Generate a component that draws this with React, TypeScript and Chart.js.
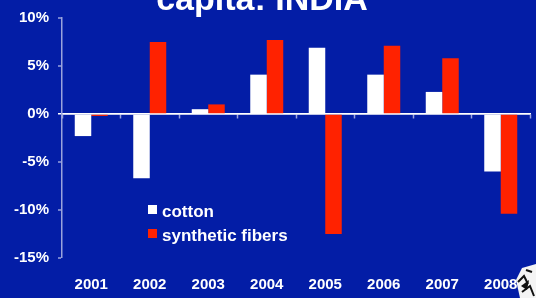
import React, { useEffect, useRef } from "react";
import { Chart, registerables } from "chart.js";

Chart.register(...registerables);

const years = ["2001", "2002", "2003", "2004", "2005", "2006", "2007", "2008"];
const cotton = [-2.3, -6.7, 0.5, 4.1, 6.9, 4.1, 2.3, -6.0];
const synthetic = [-0.2, 7.5, 1.0, 7.7, -12.5, 7.1, 5.8, -10.4];
const seriesNames = ["cotton", "synthetic fibers"];
const titleText = "capita: INDIA";

const BG = "#031da6";
const AXIS = "#9aa3dc";
const FONT = 'Arial, "Liberation Sans", sans-serif';

const bgPlugin = {
  id: "bg",
  beforeDraw(chart: any) {
    const { ctx, width, height } = chart;
    ctx.save();
    ctx.fillStyle = BG;
    ctx.fillRect(0, 0, width, height);
    ctx.restore();
  },
};

const decorPlugin = {
  id: "decor",
  afterDraw(chart: any) {
    const { ctx } = chart;
    ctx.save();
    // title (cut at top)
    ctx.fillStyle = "#ffffff";
    ctx.font = `bold 34px ${FONT}`;
    ctx.textAlign = "center";
    ctx.textBaseline = "alphabetic";
    ctx.fillText(titleText, 262, 9.5);
    // legend inside plot
    ctx.font = `bold 17px ${FONT}`;
    ctx.textAlign = "left";
    chart.data.datasets.forEach((ds: any, i: number) => {
      const y = 205 + i * 24;
      ctx.fillStyle = ds.backgroundColor;
      ctx.fillRect(148, y, 9, 9);
      ctx.fillStyle = "#ffffff";
      ctx.fillText(ds.label, 162, y + 12);
    });
    // small cotton image at bottom right
    ctx.fillStyle = "#f4f4f4";
    ctx.beginPath();
    ctx.moveTo(520, 298);
    ctx.lineTo(516, 280);
    ctx.lineTo(522, 268);
    ctx.lineTo(536, 264);
    ctx.lineTo(536, 298);
    ctx.closePath();
    ctx.fill();
    ctx.strokeStyle = "#111";
    ctx.lineWidth = 2;
    ctx.beginPath();
    ctx.moveTo(518, 282);
    ctx.lineTo(524, 276);
    ctx.lineTo(528, 284);
    ctx.moveTo(522, 292);
    ctx.lineTo(530, 286);
    ctx.lineTo(534, 296);
    ctx.moveTo(526, 270);
    ctx.lineTo(532, 272);
    ctx.stroke();
    ctx.fillStyle = "#111";
    ctx.beginPath();
    ctx.moveTo(521, 286);
    ctx.lineTo(529, 280);
    ctx.lineTo(527, 290);
    ctx.closePath();
    ctx.fill();
    ctx.restore();
  },
};

export default function App() {
  const ref = useRef<HTMLCanvasElement>(null);
  useEffect(() => {
    if (!ref.current) return;
    const chart = new Chart(ref.current, {
      type: "bar",
      data: {
        labels: years,
        datasets: [
          {
            label: seriesNames[0],
            data: cotton,
            backgroundColor: "#ffffff",
            borderWidth: 0,
            categoryPercentage: 0.564,
            barPercentage: 1,
          },
          {
            label: seriesNames[1],
            data: synthetic,
            backgroundColor: "#ff2200",
            borderWidth: 0,
            categoryPercentage: 0.564,
            barPercentage: 1,
          },
        ],
      },
      options: {
        animation: false,
        responsive: false,
        maintainAspectRatio: false,
        layout: { padding: { top: 16, right: 6, left: 0, bottom: 0 } },
        plugins: {
          legend: { display: false },
          title: { display: false },
          tooltip: { enabled: false },
        },
        scales: {
          x: {
            type: "category",
            offset: true,
            grid: { display: false, offset: true },
            border: { display: false },
            ticks: {
              color: "#ffffff",
              font: { family: FONT, size: 15, weight: "bold" },
              padding: 10,
              maxRotation: 0,
              autoSkip: false,
            },
            afterFit: (s: any) => {
              s.height = 40;
            },
          },
          x2: {
            type: "category",
            position: { y: 0 },
            offset: true,
            grid: {
              display: true,
              offset: true,
              drawOnChartArea: false,
              drawTicks: true,
              tickLength: 4,
              tickColor: AXIS,
              tickWidth: 1.5,
            },
            border: { display: true, color: "#ffffff", width: 1.5 },
            ticks: { display: false },
          },
          y: {
            min: -15,
            max: 10,
            ticks: {
              stepSize: 5,
              color: "#ffffff",
              font: { family: FONT, size: 15, weight: "bold" },
              padding: 9,
              callback: (v: any) => `${v}%`,
            },
            grid: {
              display: true,
              drawOnChartArea: true,
              drawTicks: true,
              tickLength: 4,
              color: (c: any) => (c.tick && c.tick.value === 0 ? "#ffffff" : "rgba(0,0,0,0)"),
              lineWidth: (c: any) => (c.tick && c.tick.value === 0 ? 1.5 : 0),
              tickColor: (c: any) => (c.tick && c.tick.value === 0 ? "#ffffff" : AXIS),
              tickWidth: 1.5,
            },
            border: { display: true, color: AXIS, width: 1.5 },
            afterFit: (s: any) => {
              s.width = 62;
            },
          },
        },
      },
      plugins: [bgPlugin, decorPlugin],
    } as any);
    return () => chart.destroy();
  }, []);
  return (
    <div style={{ position: "fixed", left: 0, top: 0, width: 536, height: 298, background: BG }}>
      <canvas ref={ref} width={536} height={298} style={{ display: "block" }} />
    </div>
  );
}
